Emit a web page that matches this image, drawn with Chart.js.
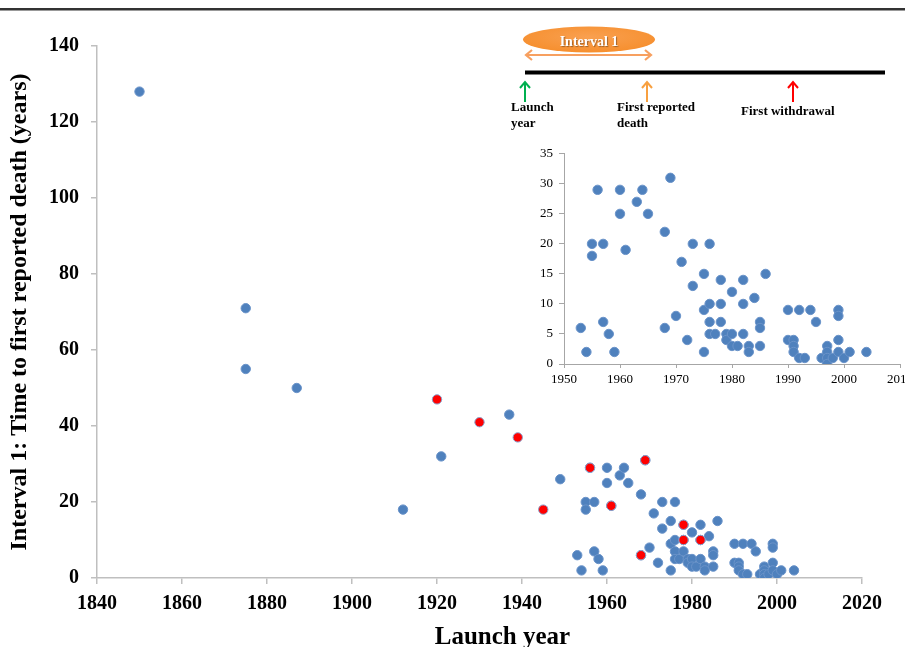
<!DOCTYPE html>
<html>
<head>
<meta charset="utf-8">
<script src="https://cdn.jsdelivr.net/npm/chart.js@4/dist/chart.umd.min.js"></script>
<style>
  body { margin: 0; background: #fff; }
  #wrap { position: relative; width: 905px; height: 647px; overflow: hidden; background: #fff; }
  #topRule { position: absolute; left: 0; top: 8px; width: 905px; height: 2px; background: #333; border-bottom: 1px solid #999; }
  #mainChart { position: absolute; left: 0; top: 0; }
  #insetChart { position: absolute; left: 520px; top: 140px; }
  #xTitle { position: absolute; left: 0; width: 1005px; top: 622px; text-align: center;
    font: bold 25px 'Liberation Serif', 'Times New Roman', serif; color: #000; }
  #diagram { position: absolute; left: 0; top: 0; pointer-events: none; }
  #diagram text { font-family: 'Liberation Serif', 'Times New Roman', serif; font-weight: bold; }
</style>
</head>
<body>
<div id="wrap">
  <div id="topRule"></div>
  <canvas id="mainChart" width="905" height="647"></canvas>
  <canvas id="insetChart" width="430" height="250"></canvas>
  <div id="xTitle">Launch year</div>
  <svg id="diagram" width="905" height="647">
    <defs>
      <radialGradient id="ovalFill" cx="50%" cy="40%" r="60%">
        <stop offset="0%" stop-color="#f9a050"/>
        <stop offset="100%" stop-color="#f68f2e"/>
      </radialGradient>
    </defs>
    <!-- interval bubble -->
    <ellipse cx="589" cy="39.5" rx="66" ry="13" fill="url(#ovalFill)"/>
    <text x="589" y="46" text-anchor="middle" font-size="14" fill="#fff" style="text-shadow: 1px 1px 1px rgba(0,0,0,0.35)">Interval 1</text>
    <!-- double arrow -->
    <g stroke="#f7a060" stroke-width="2.2" fill="none">
      <line x1="526" y1="55" x2="651" y2="55"/>
      <polyline points="532,50 526,55 532,60"/>
      <polyline points="645,50 651,55 645,60"/>
    </g>
    <!-- timeline -->
    <line x1="525" y1="72.5" x2="885" y2="72.5" stroke="#000" stroke-width="4"/>
    <g fill="none" stroke-width="2">
      <g stroke="#00b050">
        <line x1="525" y1="102" x2="525" y2="82"/>
        <polyline points="520,88 525,82 530,88"/>
      </g>
      <g stroke="#f8a040">
        <line x1="647" y1="102" x2="647" y2="82"/>
        <polyline points="642,88 647,82 652,88"/>
      </g>
      <g stroke="#ff0000">
        <line x1="793" y1="102" x2="793" y2="82"/>
        <polyline points="788,88 793,82 798,88"/>
      </g>
    </g>
    <text x="511" y="111" font-size="13" fill="#000">Launch</text>
    <text x="511" y="127" font-size="13" fill="#000">year</text>
    <text x="617" y="111" font-size="13" fill="#000">First reported</text>
    <text x="617" y="127" font-size="13" fill="#000">death</text>
    <text x="741" y="115" font-size="13" fill="#000">First withdrawal</text>
  </svg>
</div>
<script>
// data
// drugs launched before 1950 (blue)
const earlyYears = [1850, 1875, 1875, 1887, 1912, 1921, 1937, 1949];
const earlyValues = [128, 71, 55, 50, 18, 32, 43, 26];

// drugs launched 1950 onwards (blue, also shown in the inset)
const recentYears = [
  1953, 1954, 1955, 1955, 1956, 1957, 1957, 1958, 1959, 1960, 1960, 1961, 1963, 1964, 1965,
  1968, 1968, 1969, 1970, 1971, 1972, 1973, 1973, 1975, 1975, 1975, 1976, 1976, 1976, 1976,
  1977, 1978, 1978, 1978, 1979, 1979, 1980, 1980, 1980, 1981, 1982, 1982, 1982, 1983, 1983,
  1984, 1985, 1985, 1985, 1986, 1990, 1990, 1991, 1991, 1991, 1992, 1992, 1993, 1994, 1995,
  1996, 1997, 1997, 1997, 1997, 1998, 1999, 1999, 1999, 1999, 2000, 2001, 2004
];
const recentValues = [
  6, 2, 20, 18, 29, 20, 7, 5, 2, 29, 25, 19, 27, 29, 25,
  22, 6, 31, 8, 17, 4, 20, 13, 15, 9, 2, 20, 10, 7, 5,
  5, 14, 10, 7, 5, 4, 12, 5, 3, 3, 14, 10, 5, 3, 2,
  11, 7, 6, 3, 15, 9, 4, 4, 3, 2, 9, 1, 1, 9, 7,
  1, 3, 2, 1, 0, 1, 9, 8, 4, 2, 1, 2, 2
];

// highlighted drugs (red)
const redYears = [1920, 1930, 1939, 1945, 1956, 1961, 1969, 1968, 1978, 1978, 1982];
const redValues = [47, 41, 37, 18, 29, 19, 31, 6, 14, 10, 10];

const xTicksMain = [1840, 2020, 20];   // min, max, step
const yTicksMain = [0, 140, 20];
const xTicksInset = [1950, 2010, 10];
const yTicksInset = [0, 35, 5];

const toPoints = (xs, ys) => xs.map((x, i) => ({ x: x, y: ys[i] }));
const plain = v => String(v); // no thousands separator

const serif = "'Liberation Serif', 'Times New Roman', serif";
const blue = '#4f81bd';

const mainChart = new Chart(document.getElementById('mainChart'), {
  type: 'scatter',
  data: {
    datasets: [
      // red first so it is drawn on top
      {
        data: toPoints(redYears, redValues),
        backgroundColor: '#ff0000',
        borderColor: '#8aa4cf',
        borderWidth: 1,
        pointRadius: 4.7,
      },
      {
        data: toPoints(earlyYears.concat(recentYears), earlyValues.concat(recentValues)),
        backgroundColor: blue,
        borderColor: '#6a93c9',
        borderWidth: 1,
        pointRadius: 4.7,
      },
    ],
  },
  options: {
    responsive: false,
    animation: false,
    layout: { padding: { left: 0, top: 46, right: 43, bottom: 0 } },
    plugins: { legend: { display: false }, tooltip: { enabled: false } },
    scales: {
      x: {
        type: 'linear',
        min: xTicksMain[0],
        max: xTicksMain[1],
        ticks: { stepSize: xTicksMain[2], maxRotation: 0, padding: 8, color: '#000', callback: plain, font: { family: serif, size: 20, weight: 'bold' } },
        grid: { drawOnChartArea: false, tickLength: 6, color: '#bfbfbf', lineWidth: 1.5 },
        border: { color: '#bfbfbf', width: 1.5 },
        afterFit: s => { s.height = 69; },
      },
      y: {
        min: yTicksMain[0],
        max: yTicksMain[1],
        ticks: { stepSize: yTicksMain[2], padding: 12, color: '#000', callback: plain, font: { family: serif, size: 20, weight: 'bold' } },
        grid: { drawOnChartArea: false, tickLength: 6, color: '#bfbfbf', lineWidth: 1.5 },
        border: { color: '#bfbfbf', width: 1.5 },
        title: {
          display: true,
          text: 'Interval 1: Time to first reported death (years)',
          color: '#000',
          font: { family: serif, size: 24, weight: 'bold' },
          padding: { top: 5, bottom: 0 },
        },
        afterFit: s => { s.width = 97; },
      },
    },
  },
});

const insetChart = new Chart(document.getElementById('insetChart'), {
  type: 'scatter',
  data: {
    datasets: [
      {
        data: toPoints(recentYears, recentValues),
        backgroundColor: blue,
        borderColor: '#6a93c9',
        borderWidth: 1,
        pointRadius: 4.7,
      },
    ],
  },
  options: {
    responsive: false,
    animation: false,
    layout: { padding: { left: 0, top: 9, right: 50, bottom: 0 } },
    plugins: { legend: { display: false }, tooltip: { enabled: false } },
    scales: {
      x: {
        type: 'linear',
        min: xTicksInset[0],
        max: xTicksInset[1],
        ticks: { stepSize: xTicksInset[2], maxRotation: 0, padding: 4, color: '#000', callback: plain, font: { family: serif, size: 13 } },
        grid: { drawOnChartArea: false, tickLength: 4, color: '#a6a6a6', lineWidth: 1 },
        border: { color: '#a6a6a6', width: 1 },
        afterFit: s => { s.height = 26; },
      },
      y: {
        min: yTicksInset[0],
        max: yTicksInset[1],
        ticks: { stepSize: yTicksInset[2], padding: 6, color: '#000', callback: plain, font: { family: serif, size: 13 } },
        grid: { drawOnChartArea: false, tickLength: 5, color: '#a6a6a6', lineWidth: 1 },
        border: { color: '#a6a6a6', width: 1 },
        afterFit: s => { s.width = 44; },
      },
    },
  },
});
</script>
</body>
</html>
